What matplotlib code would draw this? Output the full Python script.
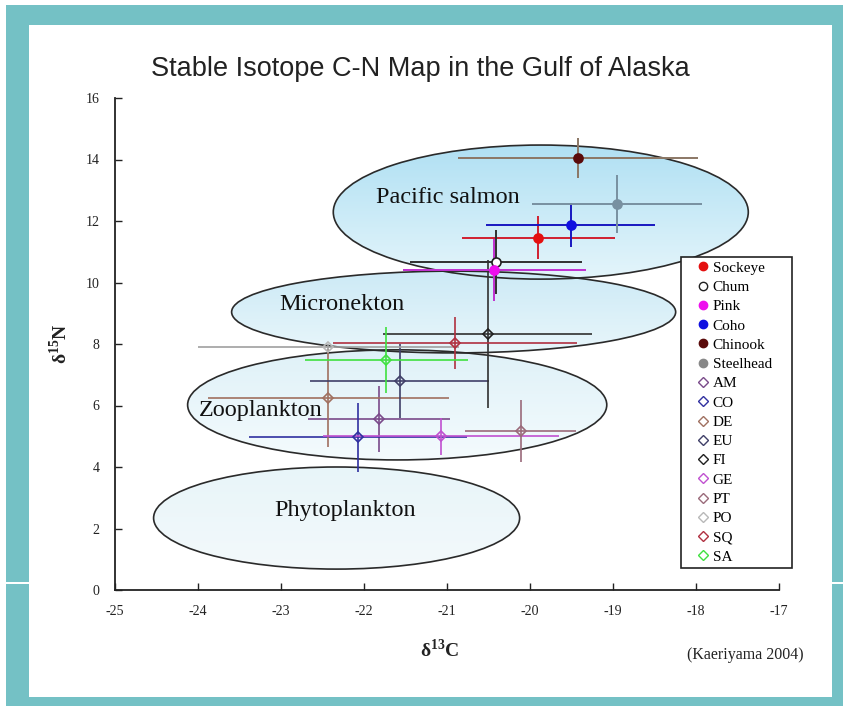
import numpy as np
import matplotlib
matplotlib.use("Agg")
import matplotlib.pyplot as plt
from matplotlib.patches import Ellipse, Rectangle
from matplotlib.lines import Line2D
from matplotlib.colors import to_rgb

plt.rcParams['mathtext.fontset'] = 'custom'
plt.rcParams['mathtext.rm'] = 'Liberation Serif'
plt.rcParams['mathtext.bf'] = 'Liberation Serif:bold'

# ---- data: mean and SD of d13C / d15N per group ----
groups = ['Sockeye', 'Chum', 'Pink', 'Coho', 'Chinook', 'Steelhead',
          'AM', 'CO', 'DE', 'EU', 'FI', 'GE', 'PT', 'PO', 'SQ', 'SA']
d13c = [-19.90, -20.41, -20.43, -19.51, -19.42, -18.95,
        -21.82, -22.07, -22.43, -21.57, -20.51, -21.07, -20.11, -22.43, -20.90, -21.73]
d15n = [11.45, 10.67, 10.40, 11.87, 14.06, 12.55,
        5.56, 4.97, 6.25, 6.80, 8.33, 5.00, 5.17, 7.90, 8.03, 7.48]
sd_c = [0.92, 1.04, 1.10, 1.02, 1.45, 1.02,
        0.86, 1.31, 1.45, 1.08, 1.26, 1.42, 0.67, 1.57, 1.47, 0.98]
sd_n = [0.70, 1.05, 1.00, 0.70, 0.65, 0.95,
        1.07, 1.12, 1.60, 1.20, 2.40, 0.60, 1.00, 0.10, 0.85, 1.07]

# trophic-level zones: name, centre x, centre y, width, height
zones = ['Pacific salmon', 'Micronekton', 'Zooplankton', 'Phytoplankton']
zone_cx = [-19.87, -20.92, -21.60, -22.33]
zone_cy = [12.29, 9.04, 6.02, 2.34]
zone_w = [5.00, 5.35, 5.05, 4.41]
zone_h = [4.36, 2.66, 3.58, 3.32]
zone_label_x = [-20.99, -22.27, -23.25, -22.23]
zone_label_y = [12.78, 9.27, 5.85, 2.60]

x_ticks = [-25, -24, -23, -22, -21, -20, -19, -18, -17]
y_ticks = [0, 2, 4, 6, 8, 10, 12, 14, 16]

# ---- styling ----
marker_face = ['#e41010', 'white', '#ee10ee', '#1010e0', '#5a0a0a', '#7890a0',
               'none', 'none', 'none', 'none', 'none', 'none', 'none', 'none', 'none', 'none']
marker_edge = ['#e41010', '#202020', '#ee10ee', '#1010e0', '#5a0a0a', '#7890a0',
               '#7a4a8a', '#3030a0', '#a07060', '#404068', '#202020', '#c050d0',
               '#9a6a7a', '#b8b8b8', '#b03040', '#40e040']
bar_color = ['#d02030', '#303030', '#c030d0', '#1818c0', '#8b7765', '#7890a0',
             '#7a4a8a', '#3030a0', '#a07060', '#404068', '#303030', '#c050d0',
             '#9a6a7a', '#a0a0a0', '#b03040', '#40e040']
legend_face = ['#e41010', 'white', '#ee10ee', '#1010e0', '#5a0a0a', '#888888']
zone_top = ['#b0e0f3', '#cdeaf6', '#dff1f8', '#e8f5f9']
zone_bot = ['#e4f5fb', '#e8f6fb', '#f4fbfd', '#f3f9fb']

W, H = 843, 706
fig = plt.figure(figsize=(W / 100, H / 100), dpi=100)

# slide frame
fig.patches.append(Rectangle((6 / W, 0), 1 - 6 / W, 1 - 5 / H, transform=fig.transFigure,
                             facecolor='#74c1c5', edgecolor='none', zorder=-3))
fig.patches.append(Rectangle((29 / W, 9 / H), (832 - 29) / W, (681 - 9) / H,
                             transform=fig.transFigure, facecolor='white',
                             edgecolor='none', zorder=-2))
for x0, x1 in [(6, 29), (832, 843)]:
    fig.patches.append(Rectangle((x0 / W, (706 - 584) / H), (x1 - x0) / W, 2 / H,
                                 transform=fig.transFigure, facecolor='white',
                                 edgecolor='none', zorder=-1))

ax_l, ax_r, ax_t, ax_b = 115, 779, 98, 590
ax = fig.add_axes([ax_l / W, (H - ax_b) / H, (ax_r - ax_l) / W, (ax_b - ax_t) / H])
ax.set_facecolor('none')
ax.set_xlim(-25, -17)
ax.set_ylim(0, 16)
ax.set_autoscale_on(False)

# zone ellipses with vertical colour gradient
for i in range(len(zones)):
    cx, cy, w, h = zone_cx[i], zone_cy[i], zone_w[i], zone_h[i]
    top = np.array(to_rgb(zone_top[i]))
    bot = np.array(to_rgb(zone_bot[i]))
    t = np.linspace(0, 1, 64)[:, None]
    grad = (top * (1 - t) + bot * t)[:, None, :]
    clip = Ellipse((cx, cy), w, h, facecolor='none', edgecolor='none')
    ax.add_patch(clip)
    im = ax.imshow(grad, extent=[cx - w / 2, cx + w / 2, cy - h / 2, cy + h / 2],
                   origin='upper', aspect='auto', interpolation='bilinear', zorder=1)
    im.set_clip_path(clip)
for i in range(len(zones)):
    ax.add_patch(Ellipse((zone_cx[i], zone_cy[i]), zone_w[i], zone_h[i],
                         facecolor='none', edgecolor='#2a2a2a', lw=1.2, zorder=2))
    ax.text(zone_label_x[i], zone_label_y[i], zones[i], ha='center', va='center',
            fontsize=17.5, family='Liberation Serif', color='#111111', zorder=6)

# error bars and group means (prey first, salmon on top)
order = list(range(6, len(groups))) + list(range(6))
for i in order:
    salmon = i < 6
    ax.errorbar(d13c[i], d15n[i], xerr=sd_c[i], yerr=sd_n[i], fmt='none',
                ecolor=bar_color[i], elinewidth=1.4 if salmon else 1.2, capsize=0,
                zorder=4 if salmon else 3)
    ax.plot(d13c[i], d15n[i], marker='o' if salmon else 'D',
            ms=6.5 if salmon else 5.2, mfc=marker_face[i], mec=marker_edge[i],
            mew=1.2, ls='none', zorder=5 if salmon else 3.5)

# axes styling
for s in ['top', 'right']:
    ax.spines[s].set_visible(False)
for s in ['left', 'bottom']:
    ax.spines[s].set_color('#222222')
    ax.spines[s].set_linewidth(1.3)
ax.set_xticks(x_ticks)
ax.set_yticks(y_ticks)
ax.set_xticklabels([str(v) for v in x_ticks])
ax.set_yticklabels([str(v) for v in y_ticks])
ax.tick_params(axis='both', direction='in', length=5, width=1, color='#222222',
               labelsize=10, labelcolor='#222222')
ax.tick_params(axis='x', pad=11)
ax.tick_params(axis='y', pad=11)
for lab in ax.get_xticklabels() + ax.get_yticklabels():
    lab.set_family('Liberation Serif')

# legend inside a square box
fig.patches.append(Rectangle((681 / W, (H - 568) / H), (792 - 681) / W, (568 - 257) / H,
                             transform=fig.transFigure, facecolor='white',
                             edgecolor='#222222', lw=1.2, zorder=9))
handles = []
for i in range(len(groups)):
    if i < 6:
        handles.append(Line2D([], [], marker='o', ls='none', ms=6, mfc=legend_face[i],
                              mec='#202020' if i == 1 else legend_face[i], mew=1))
    else:
        handles.append(Line2D([], [], marker='D', ls='none', ms=4.8, mfc='none',
                              mec=marker_edge[i], mew=1))
leg = fig.legend(handles, groups, loc='upper left',
                 bbox_to_anchor=(696 / W, (H - 261) / H), bbox_transform=fig.transFigure,
                 prop={'family': 'Liberation Serif', 'size': 11},
                 frameon=False, handlelength=0.9, handletextpad=0.2,
                 labelspacing=0.365, borderpad=0.0, borderaxespad=0)
leg.set_zorder(10)

# titles and labels
fig.text(420 / W, (H - 69) / H, 'Stable Isotope C-N Map in the Gulf of Alaska',
         ha='center', va='center', fontsize=19.5, family='Liberation Sans',
         color='#222222')
fig.text(440 / W, (H - 650) / H, 'δ$^{\\mathbf{13}}$C', ha='center', va='center',
         fontsize=14, family='Liberation Serif', fontweight='bold', color='#222222')
fig.text(60 / W, (H - 344) / H, 'δ$^{\\mathbf{15}}$N', ha='center', va='center',
         rotation=90, fontsize=14, family='Liberation Serif', fontweight='bold',
         color='#222222')
fig.text(745 / W, (H - 655) / H, '(Kaeriyama 2004)', ha='center', va='center',
         fontsize=11.5, family='Liberation Serif', color='#222222')

fig.savefig('out.png', dpi=100)
